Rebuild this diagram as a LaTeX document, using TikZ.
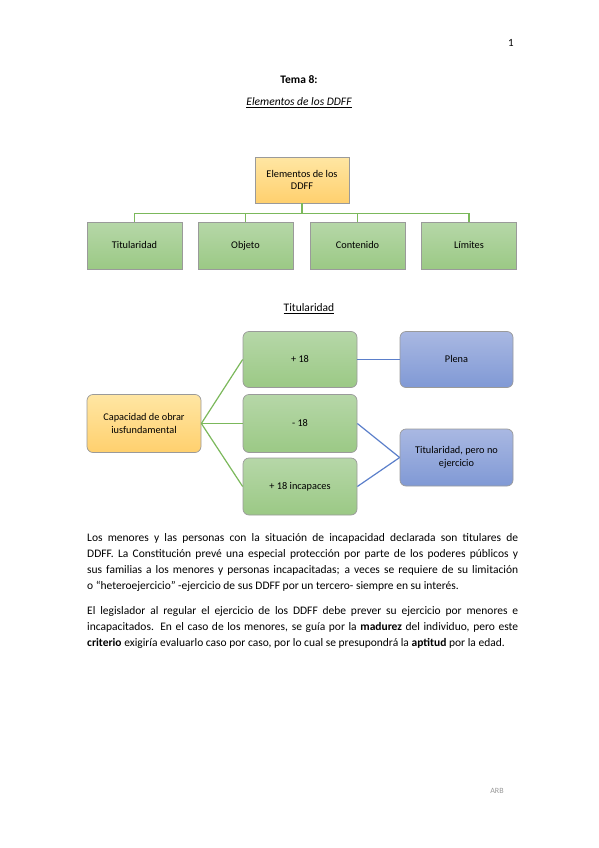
\documentclass[tikz,border=0pt]{standalone}
\usepackage{fontspec}
\setmainfont{Carlito}
\usetikzlibrary{positioning,calc}
\definecolor{grnTop}{HTML}{B6D7A8}
\definecolor{grnBot}{HTML}{9BC985}
\definecolor{orgTop}{HTML}{FFE6A3}
\definecolor{orgBot}{HTML}{FFD06E}
\definecolor{bluTop}{HTML}{A9B8E2}
\definecolor{bluBot}{HTML}{8099D5}
\definecolor{grnLine}{HTML}{7BB85B}
\definecolor{bluLine}{HTML}{5B7FCA}
\definecolor{edgeGray}{HTML}{9A9A9A}
\tikzset{
    block/.style = {draw=edgeGray, rectangle, line width=0.7pt,
        minimum height=47pt,
        minimum width=95pt, align=center, inner sep=2pt,
        font=\fontsize{10.3}{12.5}\selectfont},
    oneline/.style = {text height=7pt, text depth=2pt},
    gfill/.style = {top color=grnTop, bottom color=grnBot},
    ofill/.style = {top color=orgTop, bottom color=orgBot},
    bfill/.style = {top color=bluTop, bottom color=bluBot},
    rblock/.style = {block, rounded corners=6pt, minimum height=57pt, minimum width=114pt},
    gline/.style = {draw=grnLine, line width=1.2pt},
    bline/.style = {draw=bluLine, line width=1.2pt},
    para/.style = {anchor=north west, inner sep=0pt, text width=431pt, align=justify,
        font=\fontsize{11.5}{16}\selectfont}
}
\begin{document}
\begin{tikzpicture}[x=1pt, y=-1pt]
    \useasboundingbox (0,0) rectangle (599,848);
    % page heading
    \node [font=\fontsize{11}{13}\selectfont] (pagenum) at (511,43) {1};
    \node [font=\bfseries\fontsize{11.5}{13}\selectfont] (tema) at (299,80) {Tema 8:};
    \node [font=\itshape\fontsize{11.5}{13}\selectfont] (subtit) at (299,103) {\underline{Elementos de los DDFF}};

    % elementos de los DDFF
    \node [block, ofill, minimum width=94pt, minimum height=46pt] (elem) at (302,180) {Elementos de los\\DDFF};
    \node [block, gfill, oneline] (tit) at (134.5,245.5) {Titularidad};
    \node [block, gfill, oneline, right of=tit, node distance=111pt] (obj) {Objeto};
    \node [block, gfill, oneline, right of=obj, node distance=112pt] (cont) {Contenido};
    \node [block, gfill, oneline, right of=cont, node distance=111.5pt] (lim) {L\'imites};
    \coordinate (bus) at (302,213.5);
    \draw [gline] (elem.south) -- (bus);
    \draw [gline] (tit.north) -- (tit.north |- bus) -- (lim.north |- bus) -- (lim.north);
    \draw [gline] (obj.north) -- (obj.north |- bus);
    \draw [gline] (cont.north) -- (cont.north |- bus);

    % titularidad
    \node [font=\fontsize{11.5}{13}\selectfont] (subtit2) at (309,309) {\underline{Titularidad}};
    \node [rblock, ofill, minimum height=58pt] (cap) at (144,423.5) {Capacidad de obrar\\iusfundamental};
    \node [rblock, gfill, oneline, minimum height=56pt] (mas) at (300,359.5) {+ 18};
    \node [rblock, gfill, oneline, minimum height=58pt] (menos) at (300,423.5) {- 18};
    \node [rblock, gfill, oneline, minimum height=57pt] (incap) at (300,486.5) {+ 18 incapaces};
    \node [rblock, bfill, oneline, minimum width=113pt, minimum height=56pt] (plena) at (456.5,359.5) {Plena};
    \node [rblock, bfill, minimum width=113pt] (noej) at (456.5,457.5) {Titularidad, pero no\\ejercicio};
    \draw [gline] (cap.east) -- (mas.west);
    \draw [gline] (cap.east) -- (menos.west);
    \draw [gline] (cap.east) -- (incap.west);
    \draw [bline] (mas.east) -- (plena.west);
    \draw [bline] (menos.east) -- (noej.west);
    \draw [bline] (incap.east) -- (noej.west);

    % text
    \node [para] (txt1) at (87,533) {Los menores y las personas con la situaci\'on de incapacidad declarada son titulares de\linebreak
        DDFF. La Constituci\'on prev\'e una especial protecci\'on por parte de los poderes p\'ublicos y\linebreak
        sus familias a los menores y personas incapacitadas; a veces se requiere de su limitaci\'on\linebreak
        o “heteroejercicio” -ejercicio de sus DDFF por un tercero- siempre en su inter\'es.};
    \node [para] (txt2) at (87,606) {El legislador al regular el ejercicio de los DDFF debe prever su ejercicio por menores e\linebreak
        incapacitados. En el caso de los menores, se gu\'ia por la \textbf{madurez} del individuo, pero este\linebreak
        \textbf{criterio} exigir\'ia evaluarlo caso por caso, por lo cual se presupondr\'a la \textbf{aptitud} por la edad.};
    \node [font=\fontsize{8}{10}\selectfont, text=gray!80] (firma) at (497,791) {ARB};
\end{tikzpicture}
\end{document}
